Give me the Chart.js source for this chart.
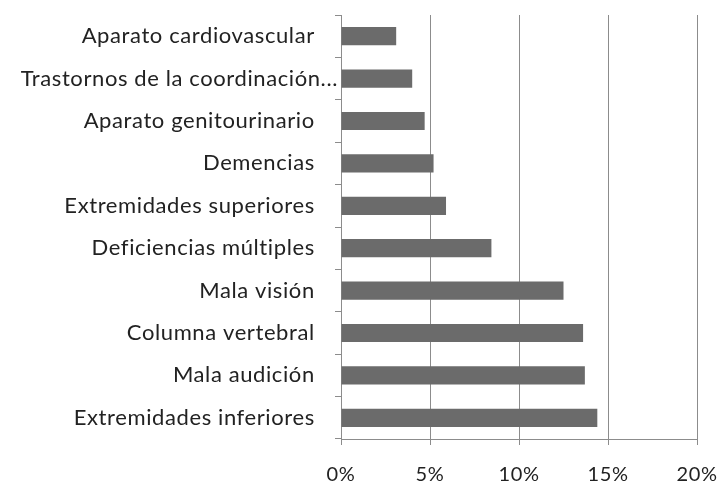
<!DOCTYPE html>
<html><head><meta charset="utf-8">
<script src="https://cdn.jsdelivr.net/npm/chart.js@4.4.0/dist/chart.umd.min.js"></script>
<style>html,body{margin:0;padding:0;background:#fff}#wrap{width:719px;height:486px}</style>
</head><body><div id="wrap"><canvas id="c" width="719" height="486"></canvas></div>
<script>
const categories = ["Aparato cardiovascular","Trastornos de la coordinación...","Aparato genitourinario","Demencias","Extremidades superiores","Deficiencias múltiples","Mala visión","Columna vertebral","Mala audición","Extremidades inferiores"];
const values = [3.1, 4.0, 4.7, 5.2, 5.9, 8.45, 12.5, 13.6, 13.7, 14.4];
const xTicks = [0, 5, 10, 15, 20];

const spacing = {
  id: 'spacing',
  beforeDraw(chart) { chart.ctx.letterSpacing = '0.6px'; }
};

new Chart(document.getElementById('c'), {
  type: 'bar',
  data: { labels: categories, datasets: [{ data: values, backgroundColor: '#6b6b6b', barPercentage: 0.43, categoryPercentage: 1 }] },
  plugins: [spacing],
  options: {
    indexAxis: 'y', responsive: false, animation: false,
    layout: { padding: { top: 15, right: 22, left: 0, bottom: 0 } },
    plugins: { legend: { display: false }, tooltip: { enabled: false } },
    scales: {
      x: {
        min: 0, max: 20,
        afterBuildTicks: s => { s.ticks = xTicks.map(v => ({ value: v })); },
        afterFit: s => { s.height = 47; s.paddingLeft = 0; s.paddingRight = 0; },
        ticks: { callback: v => v + '%', color: '#222', font: { family: 'Lato', size: 20 }, padding: 18, maxRotation: 0 },
        grid: { color: '#8c8c8c', lineWidth: 1, tickLength: 6, drawTicks: true },
        border: { color: '#8c8c8c' }
      },
      y: {
        afterFit: s => { s.width = 341; s.paddingTop = 0; s.paddingBottom = 0; },
        ticks: { color: '#222', font: { family: 'Lato', size: 22 }, padding: -3,
          callback: function(v){ const l = this.getLabelForValue(v); return l.endsWith('...') ? l : l + '\u2002\u2002'; } },
        grid: { offset: true, drawOnChartArea: false, tickLength: 6, color: '#8c8c8c' },
        border: { color: '#8c8c8c' }
      }
    }
  }
});
</script></body></html>
